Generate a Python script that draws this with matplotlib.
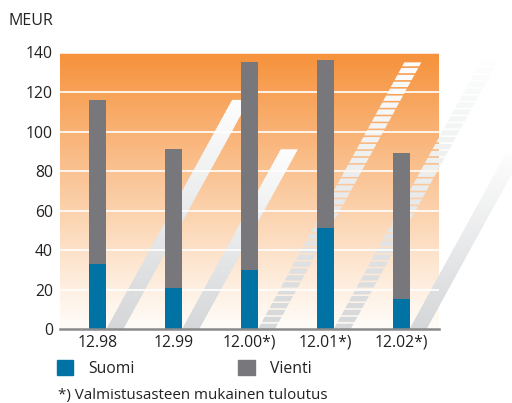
import numpy as np
import matplotlib.pyplot as plt
from matplotlib.patches import Polygon, Patch
from matplotlib.colors import to_rgb

plt.rcParams['font.family'] = ['Open Sans', 'DejaVu Sans']

# data (MEUR)
vuodet = ['12.98', '12.99', '12.00*)', '12.01*)', '12.02*)']
suomi = [33, 21, 30, 51, 15]
yhteensa = [116, 91, 135, 136, 89]
vienti = [t - s for t, s in zip(yhteensa, suomi)]
raidoitettu = [False, False, True, True, False]  # shadow drawn as dashed slices
y_ticks = [0, 20, 40, 60, 80, 100, 120, 140]

SININEN = '#0072a3'
HARMAA = '#78787c'
TEKSTI = '#222222'

fig = plt.figure(figsize=(5.12, 4.03), dpi=100)
ax = fig.add_axes([60 / 512, 1 - 329 / 403, 379 / 512, 276.5 / 403])

x = np.arange(len(vuodet))
leveys = 0.224

# orange gradient background
ylae = np.array(to_rgb('#f6913a'))
yala = np.array(to_rgb('#fffcf8'))
t = np.linspace(0, 1, 256)[:, None]
grad = yala + (ylae - yala) * t ** 1.1
ax.imshow(grad[:, None, :], extent=[-0.5, 4.5, 0, 140], origin='lower',
          aspect='auto', zorder=0, interpolation='bilinear')

# slanted "shadows" behind the bars, length = bar height
k = 0.0143   # horizontal shift per data unit of height
c0 = np.array(to_rgb('#d4d6d8'))
c1 = np.array(to_rgb('#fdfdfd'))
for xi, h, raita in zip(x, yhteensa, raidoitettu):
    x0 = xi + leveys / 2
    if raita:
        jakso, rako = 3.5, 0.8
    else:
        jakso, rako = h / 60, -0.7   # negative gap = overlap, hides seams
    y = 0.0
    while y < h - 0.01:
        y1 = min(y + jakso - rako, h)
        col = c0 + (c1 - c0) * ((y + min(y + jakso, h)) / 2 / h)
        pts = [(x0 + k * y, y), (x0 + leveys + k * y, y),
               (x0 + leveys + k * y1, y1), (x0 + k * y1, y1)]
        ax.add_patch(Polygon(pts, closed=True, facecolor=col, lw=0,
                             zorder=1, clip_on=False))
        y += jakso

# gridlines
ax.hlines(y_ticks[1:-1], -0.5, 4.5, color='white', lw=1.2, zorder=2)
ax.hlines(140, -0.5, 4.5, color='#fde3cc', lw=1.5, zorder=2)

# bars
b1 = ax.bar(x, suomi, leveys, color=SININEN, zorder=3)
b2 = ax.bar(x, vienti, leveys, bottom=suomi, color=HARMAA, zorder=3)

ax.set_xlim(-0.5, 4.5)
ax.set_ylim(0, 140)
ax.set_yticks(y_ticks)
ax.set_xticks(x)
ax.set_xticklabels(vuodet)
for s in ['top', 'right', 'left']:
    ax.spines[s].set_visible(False)
ax.spines['bottom'].set_color('#8a8a8a')
ax.spines['bottom'].set_linewidth(1.8)
ax.spines['bottom'].set_zorder(4)
ax.tick_params(axis='y', length=0, pad=5, labelsize=11.3, labelcolor=TEKSTI)
ax.tick_params(axis='x', length=0, pad=4, labelsize=11.3, labelcolor=TEKSTI)

fig.text(8 / 512, 1 - 21 / 403, 'MEUR', va='center', ha='left',
         fontsize=11.5, color=TEKSTI)

fig.legend(handles=[Patch(color=SININEN), Patch(color=HARMAA)],
           labels=['Suomi', 'Vienti'], loc='upper left',
           bbox_to_anchor=(57 / 512, 1 - 360 / 403), ncol=2, frameon=False,
           fontsize=11.3, handlelength=1.05, handleheight=1.05,
           handletextpad=0.95, columnspacing=6.6, borderpad=0,
           borderaxespad=0, labelcolor=TEKSTI)

fig.text(58 / 512, 1 - 395 / 403, '*) Valmistusasteen mukainen tuloutus',
         va='center', ha='left', fontsize=10.9, color=TEKSTI)

fig.savefig('out.png', dpi=100)
